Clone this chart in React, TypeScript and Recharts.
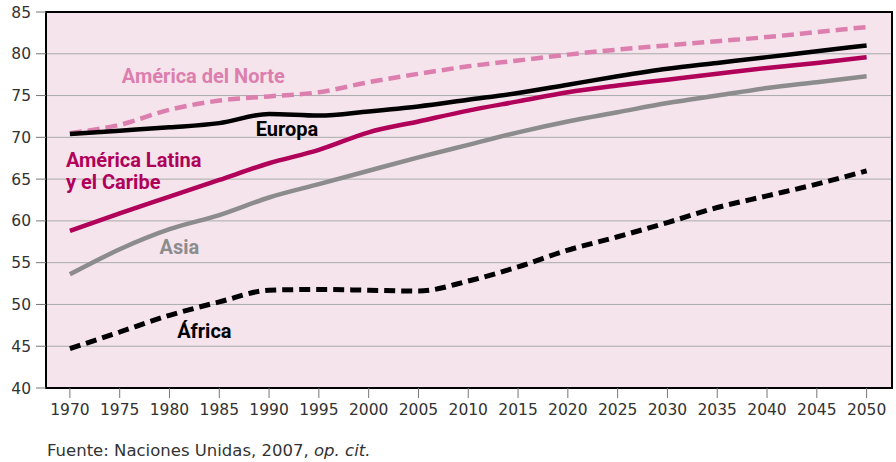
import { LineChart, Line, XAxis, YAxis, CartesianGrid, ReferenceArea, ReferenceDot } from "recharts";

const years = [1970, 1975, 1980, 1985, 1990, 1995, 2000, 2005, 2010, 2015, 2020, 2025, 2030, 2035, 2040, 2045, 2050];

const norteAmerica = [70.5, 71.5, 73.3, 74.4, 74.9, 75.4, 76.6, 77.6, 78.5, 79.2, 79.9, 80.5, 81.0, 81.5, 82.0, 82.6, 83.2];
const europa = [70.4, 70.8, 71.2, 71.7, 72.8, 72.6, 73.1, 73.7, 74.5, 75.3, 76.3, 77.3, 78.2, 78.9, 79.6, 80.3, 81.0];
const latina = [58.8, 60.9, 62.9, 64.9, 66.9, 68.5, 70.6, 71.9, 73.2, 74.3, 75.4, 76.2, 76.9, 77.6, 78.3, 78.9, 79.6];
const asia = [53.6, 56.6, 59.0, 60.7, 62.8, 64.4, 66.0, 67.6, 69.1, 70.6, 71.9, 73.0, 74.1, 75.0, 75.9, 76.6, 77.3];
const africa = [44.7, 46.7, 48.7, 50.3, 51.7, 51.8, 51.7, 51.6, 52.8, 54.5, 56.5, 58.1, 59.8, 61.6, 63.0, 64.4, 66.0];

const yTicks = [40, 45, 50, 55, 60, 65, 70, 75, 80, 85];

// series annotations: text, anchor year/value, alignment
const labels = [
  { text: "América del Norte", year: 1983.4, value: 77.4, color: "#dc7fae", anchor: "middle" },
  { text: "Europa", year: 1991.8, value: 71.0, color: "#000000", anchor: "middle" },
  { text: "América Latina", year: 1969.6, value: 67.3, color: "#b1005a", anchor: "start" },
  { text: "y el Caribe", year: 1969.6, value: 64.6, color: "#b1005a", anchor: "start" },
  { text: "Asia", year: 1981.0, value: 56.9, color: "#8c8c8c", anchor: "middle" },
  { text: "África", year: 1983.5, value: 46.8, color: "#000000", anchor: "middle" },
];

const data = years.map((year, i) => ({
  year,
  norte: norteAmerica[i],
  europa: europa[i],
  latina: latina[i],
  asia: asia[i],
  africa: africa[i],
}));

const X_MIN = 1967.6;
const X_MAX = 2052.55;
const tickFont = { fontFamily: "DejaVu Sans", fontSize: 15.5, fill: "#333" };

export default function App() {
  return (
    <div style={{ position: "fixed", left: 0, top: 0, width: 896, height: 462, background: "#fff" }}>
      <LineChart width={896} height={430} data={data} margin={{ top: 12, right: 4, left: 0, bottom: 0 }}>
        <CartesianGrid vertical={false} stroke="#aaaaaa" fill="#f5e4ec" fillOpacity={1} />
        <XAxis
          dataKey="year"
          type="number"
          domain={[X_MIN, X_MAX]}
          ticks={years}
          interval={0}
          allowDataOverflow
          height={42}
          tick={tickFont}
          tickSize={10}
          tickMargin={6}
          tickLine={{ stroke: "#777" }}
          axisLine={{ stroke: "#000", strokeWidth: 2 }}
        />
        <YAxis
          type="number"
          domain={[40, 85]}
          ticks={yTicks}
          interval={0}
          width={46}
          tick={tickFont}
          tickSize={10}
          tickMargin={5}
          tickLine={{ stroke: "#777" }}
          axisLine={{ stroke: "#000", strokeWidth: 2 }}
        />
        <Line type="monotone" dataKey="africa" stroke="#000" strokeWidth={5} strokeDasharray="11 6" dot={false} isAnimationActive={false} />
        <Line type="monotone" dataKey="asia" stroke="#8c8c8c" strokeWidth={4.5} dot={false} isAnimationActive={false} />
        <Line type="monotone" dataKey="latina" stroke="#b1005a" strokeWidth={4.5} dot={false} isAnimationActive={false} />
        <Line type="monotone" dataKey="norte" stroke="#dc7fae" strokeWidth={4.5} strokeDasharray="12 6" dot={false} isAnimationActive={false} />
        <Line type="monotone" dataKey="europa" stroke="#000" strokeWidth={4.5} dot={false} isAnimationActive={false} />
        <ReferenceArea x1={X_MIN} x2={X_MAX} y1={40} y2={85} fill="none" stroke="#000" strokeWidth={2} ifOverflow="visible" />
        {labels.map((l) => (
          <ReferenceDot
            key={l.text}
            x={l.year}
            y={l.value}
            r={0}
            fill="none"
            stroke="none"
            label={{
              content: (p: any) => {
                const vb = p.viewBox || {};
                const cx = vb.x + (vb.width || 0) / 2;
                const cy = vb.y + (vb.height || 0) / 2;
                return (
                  <text
                    x={cx}
                    y={cy}
                    textAnchor={l.anchor}
                    dominantBaseline="central"
                    fill={l.color}
                    style={{ fontFamily: "Roboto", fontWeight: 700, fontSize: 20 }}
                  >
                    {l.text}
                  </text>
                );
              },
            }}
          />
        ))}
      </LineChart>
      <div
        style={{
          position: "absolute",
          left: 47,
          top: 441,
          fontFamily: "DejaVu Sans",
          fontSize: 16.5,
          color: "#333",
          whiteSpace: "nowrap",
        }}
      >
        Fuente: Naciones Unidas, 2007, <i>op. cit.</i>
      </div>
    </div>
  );
}
